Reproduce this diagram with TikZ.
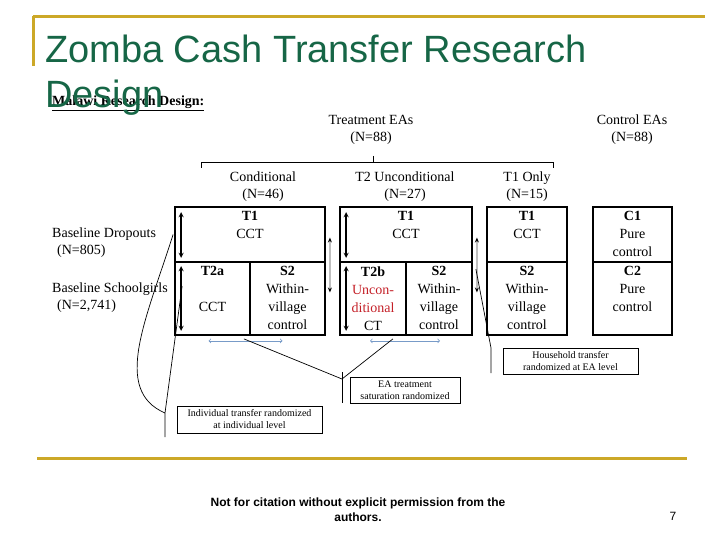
\documentclass[tikz,border=0pt]{standalone}
\usepackage{fontspec}
\setmainfont{Liberation Serif}
\newfontfamily\titlefont{Liberation Sans}
\usepackage{tikz}
\usetikzlibrary{arrows, arrows.meta, positioning}
\definecolor{titlegreen}{RGB}{22,102,70}
\definecolor{gold}{RGB}{204,168,40}
\definecolor{arrowblue}{RGB}{120,155,200}
\definecolor{textred}{RGB}{196,32,40}
\tikzstyle{cell} = [rectangle, draw=black, line width=1.8pt, inner sep=0pt]
\tikzstyle{celltext} = [align=center, inner sep=5pt, font=\fontsize{14}{18}\selectfont]
\tikzstyle{heading} = [align=center, inner sep=0pt, font=\fontsize{14}{17}\selectfont]
\tikzstyle{note} = [rectangle, draw=black, line width=0.8pt, align=center, inner sep=0pt, font=\fontsize{10}{12}\selectfont]
\tikzstyle{arrow} = [line width=1.3pt,<->,>=stealth]
\tikzstyle{grayarrow} = [line width=2pt, draw=black!25, {Stealth[black,length=5pt,width=4pt]}-{Stealth[black,length=5pt,width=4pt]}]
\tikzstyle{spread} = [line width=0.8pt,<->,>=to, draw=arrowblue]
\tikzstyle{link} = [line width=0.7pt]
\tikzstyle{goldline} = [line width=3pt, draw=gold]

\begin{document}
\begin{tikzpicture}[x=1pt, y=-1pt]
    \useasboundingbox (0,0) rectangle (720,540);
    \draw [goldline] (33,17) -- (705,17);
    \draw [goldline] (33,16) -- (33,66);
    \draw [goldline] (37,458) -- (687,458);

    \node (Malawi) [heading, anchor=west] at (52,103) {\underline{\textbf{Malawi Research Design:}}};
    \node (Treat) [heading] at (371,129.5) {Treatment EAs\\(N=88)};
    \node (Control) [heading] at (632,129.5) {Control EAs\\(N=88)};
    \node (Cond) [heading] at (263,186.5) {Conditional\\(N=46)};
    \node (Uncond) [heading] at (405,186.5) {T2 Unconditional\\(N=27)};
    \node (Only) [heading] at (527,186.5) {T1 Only\\(N=15)};
    \node (Dropouts) [heading, align=left, anchor=west] at (52,243) {Baseline Dropouts\\\hspace{5pt}(N=805)};
    \node (Schoolgirls) [heading, align=left, anchor=west] at (52,298) {Baseline Schoolgirls\\\hspace{5pt}(N=2,741)};

    % bracket over the treatment arms
    \coordinate (bkL) at (201,168);
    \coordinate (bkR) at (553,168);
    \coordinate (bkM) at (373,156);
    \draw [link] (bkL) -- ++(0,-6) -| (bkR);
    \draw [link] (bkM) -- ++(0,6);

    % cells
    \node (GoneTop) [cell, minimum width=150pt, minimum height=55pt] at (250,234.5) {};
    \node (GoneA) [cell, minimum width=75pt, minimum height=73pt] at (212.5,298.5) {};
    \node (GoneS) [cell, minimum width=75pt, minimum height=73pt] at (287.5,298.5) {};
    \node (GtwoTop) [cell, minimum width=132pt, minimum height=55pt] at (406,234.5) {};
    \node (GtwoB) [cell, minimum width=66pt, minimum height=73pt] at (373,298.5) {};
    \node (GtwoS) [cell, minimum width=66pt, minimum height=73pt] at (439,298.5) {};
    \node (GthreeTop) [cell, minimum width=80pt, minimum height=55pt] at (527,234.5) {};
    \node (GthreeS) [cell, minimum width=80pt, minimum height=73pt] at (527,298.5) {};
    \node (GfourTop) [cell, minimum width=79pt, minimum height=55pt] at (632.5,234.5) {};
    \node (GfourS) [cell, minimum width=79pt, minimum height=73pt] at (632.5,298.5) {};

    \node (GoneTopTxt) [celltext, below=0pt of GoneTop.north] {\textbf{T1}\\CCT};
    \node (GoneATxt) [celltext, below=0pt of GoneA.north] {\textbf{T2a}\\[18pt]CCT};
    \node (GoneSTxt) [celltext, below=0pt of GoneS.north] {\textbf{S2}\\Within-\\village\\control};
    \node (GtwoTopTxt) [celltext, below=0pt of GtwoTop.north] {\textbf{T1}\\CCT};
    \node (GtwoBTxt) [celltext, below=0pt of GtwoB.north] {\textbf{T2b}\\\textcolor{textred}{Uncon-}\\\textcolor{textred}{ditional}\\CT};
    \node (GtwoSTxt) [celltext, below=0pt of GtwoS.north] {\textbf{S2}\\Within-\\village\\control};
    \node (GthreeTopTxt) [celltext, below=0pt of GthreeTop.north] {\textbf{T1}\\CCT};
    \node (GthreeSTxt) [celltext, below=0pt of GthreeS.north] {\textbf{S2}\\Within-\\village\\control};
    \node (GfourTopTxt) [celltext, below=0pt of GfourTop.north] {\textbf{C1}\\Pure\\control};
    \node (GfourSTxt) [celltext, below=0pt of GfourS.north] {\textbf{C2}\\Pure\\control};

    % arrows inside and between cells
    \draw [arrow] ([xshift=7pt,yshift=-6pt]GoneTop.north west) -- ([xshift=7pt,yshift=5pt]GoneTop.south west);
    \draw [arrow] ([xshift=7pt,yshift=-5pt]GoneA.north west) -- ([xshift=7pt,yshift=5pt]GoneA.south west);
    \draw [arrow] ([xshift=7pt,yshift=-6pt]GtwoTop.north west) -- ([xshift=7pt,yshift=5pt]GtwoTop.south west);
    \draw [arrow] ([xshift=7pt,yshift=-5pt]GtwoB.north west) -- ([xshift=7pt,yshift=5pt]GtwoB.south west);
    \draw [grayarrow] ([xshift=4pt,yshift=-3pt]GoneTop.east) -- ([xshift=4pt,yshift=6pt]GoneS.east);
    \draw [grayarrow] ([xshift=4pt,yshift=-3pt]GtwoTop.east) -- ([xshift=4pt,yshift=6pt]GtwoS.east);
    \draw [spread] ([xshift=-4pt,yshift=-5pt]GoneA.south) -- ([xshift=-5pt,yshift=-5pt]GoneS.south);
    \draw [spread] ([xshift=-3pt,yshift=-5pt]GtwoB.south) -- ([xshift=1pt,yshift=-5pt]GtwoS.south);

    % randomization notes
    \node (Indiv) [note, minimum width=145pt, minimum height=27pt] at (249.5,419.5) {Individual transfer randomized\\at individual level};
    \node (EAsat) [note, minimum width=110pt, minimum height=26pt] at (405,390) {EA treatment\\saturation randomized};
    \node (HHtrans) [note, minimum width=135pt, minimum height=26pt] at (570.5,361) {Household transfer\\randomized at EA level};

    \coordinate (indJ) at (165,413);
    \coordinate (indEnd) at (165,437);
    \draw [link] ([xshift=-1pt]GoneTop.west) .. controls (146,320) and (112,390) .. (indJ);
    \draw [link] ([xshift=8pt,yshift=-25pt]GoneA.north west) -- (indJ) -- (indEnd);

    \coordinate (eaJ) at (342,379);
    \coordinate (eaTop) at (342,372);
    \coordinate (eaEnd) at (342,403);
    \draw [link] ([xshift=-7pt,yshift=-3pt]GoneA.south east) -- (eaJ) -- ([xshift=-14pt,yshift=-3pt]GtwoB.south east);
    \draw [link] (eaTop) -- (eaEnd);

    \coordinate (hhJ) at (491,348);
    \coordinate (hhEnd) at (491,373);
    \draw [link] ([xshift=3pt,yshift=-8pt]GtwoS.north east) -- (hhJ) -- (hhEnd);

    \node (Title) [anchor=north west, align=left, inner sep=0pt, text=titlegreen, font=\titlefont\fontsize{38}{45}\selectfont] at (45,35) {Zomba Cash Transfer Research\\Design};
    \node (Footer) [align=center, inner sep=0pt, font=\titlefont\bfseries\fontsize{12}{15}\selectfont] at (358,509.5) {Not for citation without explicit permission from the\\authors.};
    \node (Page) [inner sep=0pt, font=\titlefont\fontsize{12}{15}\selectfont] at (673,516) {7};
\end{tikzpicture}
\end{document}
